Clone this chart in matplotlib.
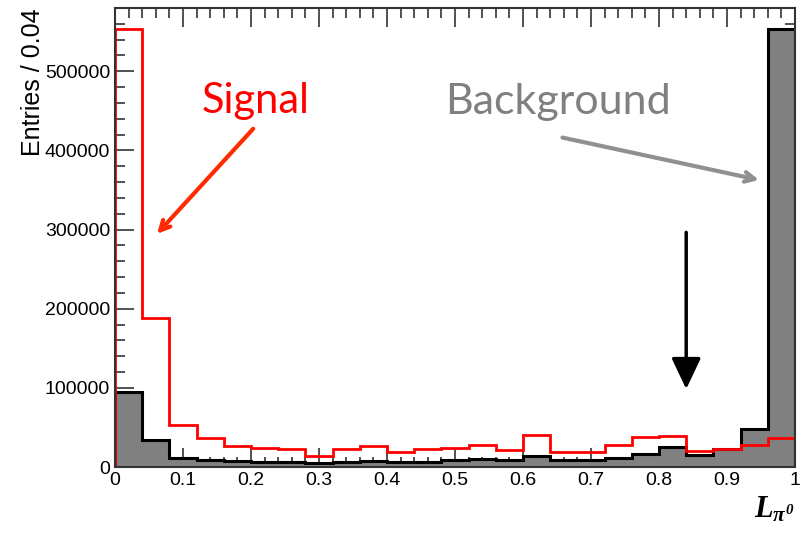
import numpy as np
import matplotlib
matplotlib.use("Agg")
import matplotlib.pyplot as plt
from matplotlib.ticker import MultipleLocator, FuncFormatter

# ---- data ----
bin_edges = np.round(np.arange(0, 1.0001, 0.04), 2)
signal = [553000, 188000, 53000, 36200, 26500, 24400, 23100, 13900, 23100, 26100,
          18500, 22300, 24400, 27800, 21500, 40000, 18500, 18900, 27800, 37500,
          39100, 20200, 23100, 28200, 36200]
background = [95000, 33700, 11000, 8800, 7600, 6300, 6300, 4700, 6300, 7600,
              6300, 6300, 8800, 9700, 8300, 13500, 8800, 8800, 11000, 16800,
              24800, 15600, 23100, 48400, 553000]
x_ticks = [0, 0.1, 0.2, 0.3, 0.4, 0.5, 0.6, 0.7, 0.8, 0.9, 1]
y_ticks = [0, 100000, 200000, 300000, 400000, 500000]

plt.rcParams['font.family'] = ['Liberation Sans', 'DejaVu Sans']
plt.rcParams['mathtext.fontset'] = 'custom'
plt.rcParams['mathtext.it'] = 'Liberation Serif:italic:bold'
plt.rcParams['mathtext.rm'] = 'Liberation Serif:italic:bold'
plt.rcParams['mathtext.bf'] = 'Liberation Serif:italic:bold'

fig = plt.figure(figsize=(8.05, 5.39), dpi=100)
ax = fig.add_axes([115/805, (539-467)/539, 680/805, 459/539])

ax.stairs(background, bin_edges, fill=True, color='#808080', zorder=2)
ax.stairs(background, bin_edges, color='black', lw=2.2, zorder=3)
ax.stairs(signal, bin_edges, color='#ff0000', lw=2.0, zorder=4)

ax.set_xlim(0, 1)
ax.set_ylim(0, 580000)
ax.set_xticks(x_ticks)
ax.set_yticks(y_ticks)
ax.xaxis.set_minor_locator(MultipleLocator(0.02))
ax.yaxis.set_minor_locator(MultipleLocator(20000))
ax.xaxis.set_major_formatter(FuncFormatter(lambda v, p: f"{v:g}"))
ax.yaxis.set_major_formatter(FuncFormatter(lambda v, p: f"{int(v)}"))
ax.tick_params(which='both', direction='in', top=True, right=True, labelsize=14, width=1.2, colors='#333333', labelcolor='black')
ax.tick_params(which='major', length=14)
ax.tick_params(which='minor', length=7)
for s in ax.spines.values():
    s.set_linewidth(1.5)
    s.set_color('#333333')
    s.set_zorder(5)

ax.set_ylabel('Entries / 0.04', fontsize=18, loc='top', labelpad=0)
ax.set_xlabel(r'$L_{\pi^0}$', fontsize=22, loc='right', labelpad=4)

# annotations
ax.text(0.206, 463000, 'Signal', color='#ff0000', fontsize=30, family='Lato',
        ha='center', va='center')
ax.annotate('', xy=(0.059, 292000), xytext=(0.206, 430000),
            arrowprops=dict(arrowstyle='->,head_length=0.7,head_width=0.35', color='#ff2a00', lw=3))
ax.text(0.651, 461000, 'Background', color='#808080', fontsize=31, family='Lato',
        ha='center', va='center')
ax.annotate('', xy=(0.951, 362000), xytext=(0.654, 417000),
            arrowprops=dict(arrowstyle='->,head_length=0.7,head_width=0.35', color='#909090', lw=3))
ax.annotate('', xy=(0.840, 95000), xytext=(0.840, 300000),
            arrowprops=dict(arrowstyle='-|>,head_length=1.9,head_width=0.9', color='black', lw=2.5))

fig.savefig('out.png', dpi=100)
